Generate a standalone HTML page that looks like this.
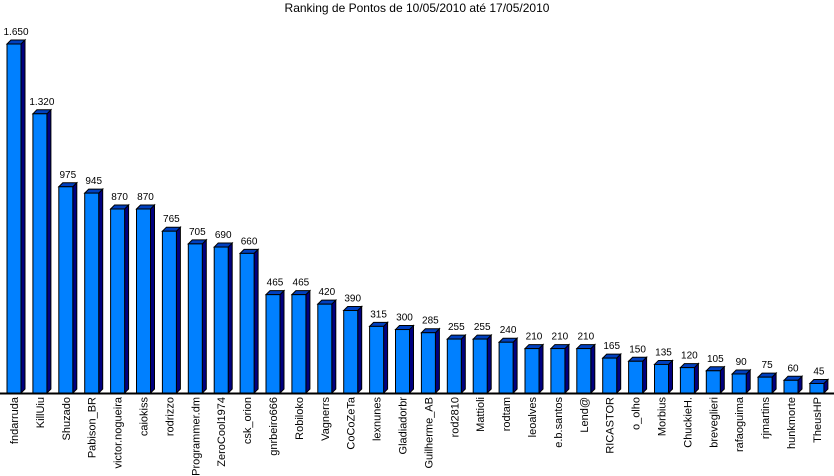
<!DOCTYPE html>
<html><head><meta charset="utf-8"><style>
body{margin:0;background:#fff}
svg{display:block;font-family:"Liberation Sans",sans-serif}
</style></head><body>
<svg id="c" width="834" height="476">
<text x="417" y="12" text-anchor="middle" font-size="12">Ranking de Pontos de 10/05/2010 até 17/05/2010</text>
<line x1="0" y1="393.5" x2="834" y2="393.5" stroke="#000" stroke-width="2"/>
<g id="bars"></g>
</svg>
<script>
const names=["fndarruda","KillUiu","Shuzado","Pabison_BR","victor.nogueira","caiokiss","rodrizzo","Programmer.dm","ZeroCool1974","csk_orion","gnrbeiro666","Robiloko","Vagnerrs","CoCoZeTa","lexnunes","Gladiadorbr","Guilherme_AB","rod2810","Mattioli","rodtam","leoalves","e.b.santos","Lend@","RICASTOR","o_olho","Morbius","ChuckieH.","breveglieri","rafaoguima","rjmartins","hunkmorte","TheusHP"];
const values=[1650,1320,975,945,870,870,765,705,690,660,465,465,420,390,315,300,285,255,255,240,210,210,210,165,150,135,120,105,90,75,60,45];
const labels=["1.650","1.320","975","945","870","870","765","705","690","660","465","465","420","390","315","300","285","255","255","240","210","210","210","165","150","135","120","105","90","75","60","45"];
const NS="http://www.w3.org/2000/svg";
const base=393, top0=44, maxV=1650;
const y=v=>base-(v/maxV)*(base-top0);
const x=i=>7+i*25.9;
const W=14,D=4;
const g=document.getElementById('bars');
function mk(t,a){const e=document.createElementNS(NS,t);for(const k in a)e.setAttribute(k,a[k]);g.appendChild(e);return e;}
values.forEach((v,i)=>{
  const x0=x(i), yt=y(v);
  const side=mk('polygon',{points:`${x0+W},${yt} ${x0+W+D},${yt-D} ${x0+W+D},${base-D} ${x0+W},${base}`,fill:'#000080',stroke:'#000',"stroke-width":1});
  
  
  const topf=mk('polygon',{points:`${x0},${yt} ${x0+D},${yt-D} ${x0+W+D},${yt-D} ${x0+W},${yt}`,fill:'#0040c0',stroke:'#000',"stroke-width":1});
  
  
  const r=mk('rect',{x:x0,y:yt,width:W,height:base-yt,fill:'#0080ff',stroke:'#000',"stroke-width":1});
  
  
  const t=mk('text',{x:x0+W/2+2,y:yt-9,"text-anchor":"middle","font-size":10,fill:'#000'});
  t.textContent=labels[i];
  
  
  const n=mk('text',{x:0,y:0,"text-anchor":"end","font-size":11,fill:'#000',transform:`translate(${x0+W/2+4},${base+4}) rotate(-90)`});
  n.textContent=names[i];
  
  
});
</script>
</body></html>
